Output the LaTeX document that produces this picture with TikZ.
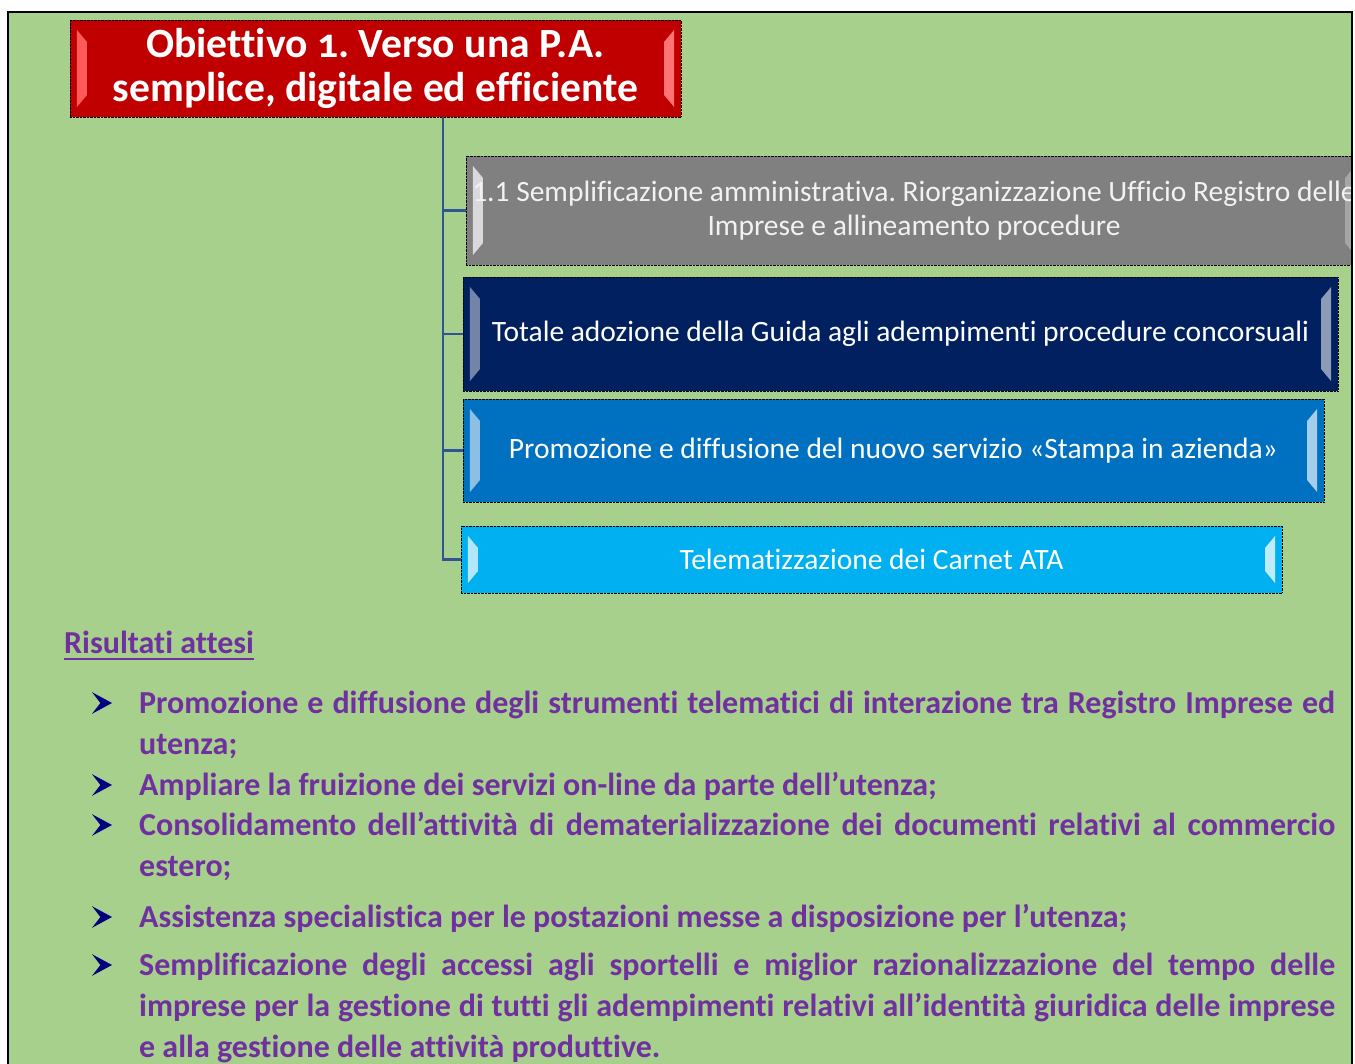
\documentclass[tikz,border=0pt]{standalone}
\usepackage{fontspec}
\setmainfont[Ligatures=NoCommon]{Carlito}
\usepackage{tikz}
\usetikzlibrary{positioning,calc}
\definecolor{paperGreen}{HTML}{A8D08D}
\definecolor{goalRed}{HTML}{C00000}
\definecolor{actGray}{HTML}{808080}
\definecolor{actNavy}{HTML}{002060}
\definecolor{actBlue}{HTML}{0070C0}
\definecolor{actCyan}{HTML}{00B0F0}
\definecolor{linkBlue}{HTML}{2F5597}
\definecolor{resPurple}{HTML}{7030A0}
\definecolor{bulletNavy}{HTML}{000080}
\newcommand{\resSpacing}{\spaceskip=.226em plus .4em minus .06em\relax\hyphenpenalty=10000\relax}
\tikzset {
	goalBox/.style={rectangle, draw=black, densely dotted, fill=goalRed, text=white, inner sep=0pt,
					align=center, font=\fontsize{41.6}{44}\selectfont\bfseries},
	actBox/.style={rectangle, draw=black, densely dotted, text=white, inner sep=0pt,
					align=center, font=\fontsize{29.5}{34}\selectfont},
	link/.style={draw=linkBlue, line width=2.4pt},
	resItem/.style={anchor=base west, inner sep=0pt, text=resPurple, text width=1196pt, align=justify,
					font=\fontsize{32}{41}\selectfont\bfseries},
	bulletHead/.pic={\fill[bulletNavy] (0,0) -- (-20,-10.8) -- (-11.6,0) -- (-20,10.8) -- cycle;}
}
% light bevel strips on both short sides of a box
\newcommand{\bevelSides}[3]{
	\fill[#2] ([xshift=7pt,yshift=-10pt]#1.north west) -- ([xshift=17pt,yshift=-22pt]#1.north west)
		-- ([xshift=17pt,yshift=22pt]#1.south west) -- ([xshift=7pt,yshift=10pt]#1.south west) -- cycle;
	\fill[#3] ([xshift=-7pt,yshift=-10pt]#1.north east) -- ([xshift=-17pt,yshift=-22pt]#1.north east)
		-- ([xshift=-17pt,yshift=22pt]#1.south east) -- ([xshift=-7pt,yshift=10pt]#1.south east) -- cycle;
}
\begin{document}
\frenchspacing
\begin{tikzpicture}[x=1pt, y=-1pt]
	\useasboundingbox (0,0) rectangle (1355,1064);
	\fill[paperGreen] (8,12) rectangle (1352,1070);
	\begin{scope}
		\clip (8,12) rectangle (1352,1070);
		\node [goalBox, minimum width=611pt, minimum height=97pt] (goal) at (375.5,68.5)
			{\addfontfeatures{Numbers=OldStyle}Obiettivo 1. Verso una P.A.\\semplice, digitale ed efficiente};
		\node [actBox, fill=actGray, minimum width=896pt, minimum height=109pt] (act1) at (914,210.5) {};
		\node [actBox, fill=actNavy, minimum width=875pt, minimum height=114pt] (act2) at (900.5,334)
			{Totale adozione della Guida agli adempimenti procedure concorsuali};
		\node [actBox, fill=actBlue, minimum width=861pt, minimum height=103pt] (act3) at (893.5,450.5)
			{Promozione e diffusione del nuovo servizio «Stampa in azienda»};
		\node [actBox, fill=actCyan, minimum width=821pt, minimum height=67pt] (act4) at (871.5,559.5)
			{Telematizzazione dei Carnet ATA};
		\bevelSides{goal}{red!65!white}{red!55!white}
		\bevelSides{act1}{white!85!black}{white!65!black}
		\bevelSides{act2}{actNavy!55!white}{actNavy!45!white}
		\bevelSides{act3}{actBlue!45!white}{actBlue!35!white}
		\bevelSides{act4}{actCyan!30!white}{actCyan!25!white}
		\node [actBox, draw=none, text=white!95!black] (act1text) at (act1)
			{1.1 Semplificazione amministrativa. Riorganizzazione Ufficio Registro delle\\Imprese e allineamento procedure};
	\end{scope}
	% tree connectors
	\coordinate (trunk) at (443,117);
	\draw [link] (trunk) |- (act1.west);
	\draw [link] (trunk) |- (act2.west);
	\draw [link] (trunk) |- (act3.west);
	\draw [link] (trunk) |- (act4.west);
	\draw [line width=2.5pt] (8,1070) |- (1352,12) -- (1352,1070);
	% expected results
	\node [anchor=base west, inner sep=0pt, text=resPurple, font=\fontsize{32}{41}\selectfont\bfseries] (resTitle) at (64,653) {Risultati attesi};
	\draw [resPurple, line width=2pt] ([yshift=-6pt]resTitle.base west) -- ([yshift=-6pt]resTitle.base east);
	\foreach \by in {703,785,825,917,965}
		\pic at (112,\by) {bulletHead};
	\node [resItem] (res1) at (139,713) {\resSpacing Promozione e diffusione degli strumenti telematici di interazione tra Registro Imprese ed\linebreak utenza;};
	\node [resItem] (res2) at (139,795) {\resSpacing Ampliare la fruizione dei servizi on-line da parte dell’utenza;};
	\node [resItem] (res3) at (139,835) {\resSpacing Consolidamento dell’attività di dematerializzazione dei documenti relativi al commercio\linebreak estero;};
	\node [resItem] (res4) at (139,927) {\resSpacing Assistenza specialistica per le postazioni messe a disposizione per l’utenza;};
	\node [resItem] (res5) at (139,975) {\resSpacing Semplificazione degli accessi agli sportelli e miglior razionalizzazione del tempo delle\linebreak imprese per la gestione di tutti gli adempimenti relativi all’identità giuridica delle imprese\linebreak e alla gestione delle attività produttive.};
\end{tikzpicture}
\end{document}
